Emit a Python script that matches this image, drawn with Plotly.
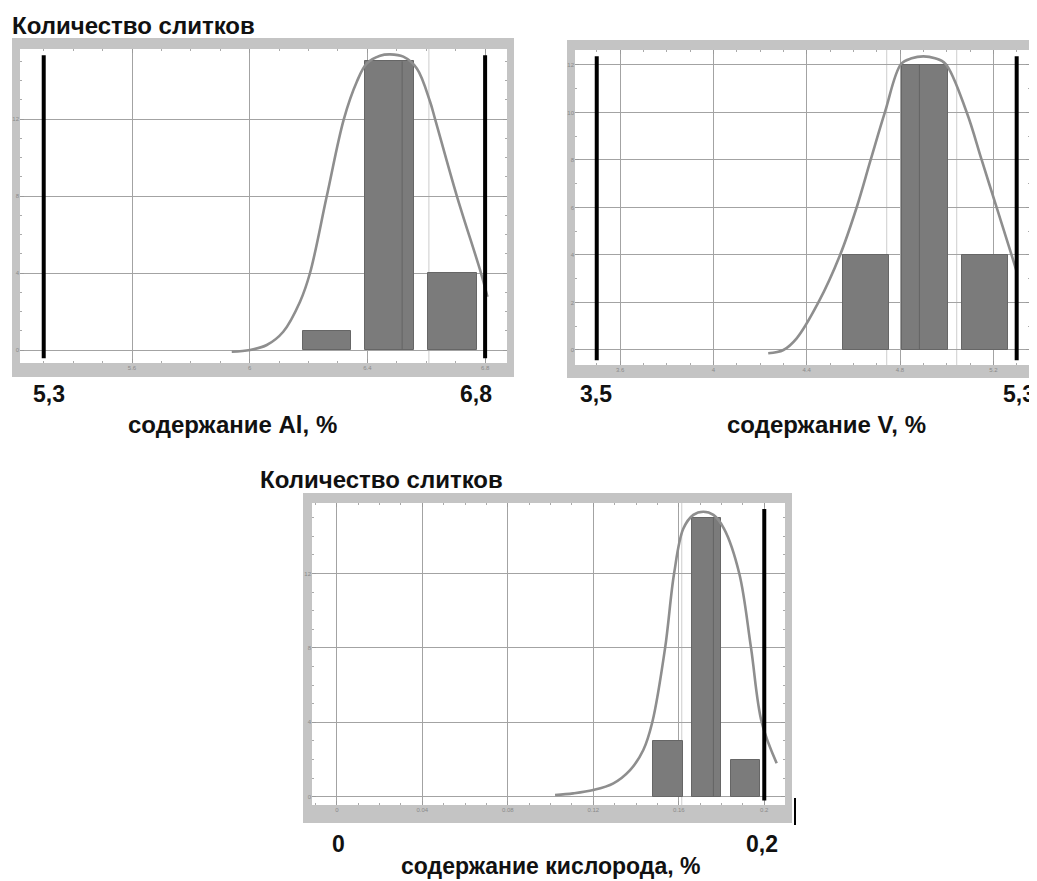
import plotly.graph_objects as go

# the page puts the figure 8px in from the top-left corner, so the figure is
# made 8px smaller and every pixel position below is given in page pixels
OFF = 8
W, H = 1037 - OFF, 881 - OFF

# ---- values ----
# Al
al_bins = [6.263, 6.475, 6.689]
al_counts = [1, 15, 4]
al_limits = [5.3, 6.8]
al_inner_edges = [6.518]
al_light_edges = [6.609]
al_curve_x = [5.939, 6.001, 6.058, 6.114, 6.171, 6.205, 6.262, 6.320,
              6.364, 6.398, 6.443, 6.477, 6.522, 6.568, 6.613, 6.630, 6.704,
              6.786, 6.808]
al_curve_y = [-0.09, 0.0, 0.26, 0.95, 2.51, 4.0, 8.0, 12.0,
              13.94, 14.89, 15.29, 15.36, 15.24, 14.63, 12.9, 12.0, 8.0,
              4.0, 2.77]

# V
v_bins = [4.653, 4.908, 5.165]
v_counts = [4, 12, 4]
v_limits = [3.5, 5.3]
v_inner_edges = [4.883]
v_light_edges = [4.743, 5.043]
v_curve_x = [4.235, 4.300, 4.357, 4.450, 4.543, 4.614, 4.674, 4.735, 4.805,
             4.850, 4.900, 4.950, 4.995, 5.086, 5.150, 5.214, 5.278, 5.300]
v_curve_y = [-0.14, 0.0, 0.49, 2.0, 4.0, 6.0, 8.0, 10.0, 12.05,
             12.28, 12.36, 12.28, 12.05, 10.0, 8.0, 6.0, 4.0, 3.3]

# O
o_bins = [0.155, 0.1729, 0.1913]
o_counts = [3, 15, 2]
o_limits = [0.2]
o_inner_edges = [0.1762]
o_light_edges = [0.1614]
o_curve_x = [0.1021, 0.1106, 0.12, 0.1294, 0.1372, 0.1434, 0.1476, 0.1536,
             0.1578, 0.1621, 0.1668, 0.1715, 0.1762, 0.1812, 0.1883, 0.1938,
             0.1988, 0.2058]
o_curve_y = [0.09, 0.18, 0.36, 0.72, 1.43, 2.51, 4.0, 8.0,
             12.0, 14.4, 15.15, 15.32, 15.15, 14.4, 12.0, 8.0,
             4.0, 1.8]

al_xticks = [5.6, 6.0, 6.4, 6.8]
v_xticks = [3.6, 4.0, 4.4, 4.8, 5.2]
o_xticks = [0, 0.04, 0.08, 0.12, 0.16, 0.2]

FRAME = "#c4c4c4"
GRID = "#a3a3a3"
BAR = "#7b7b7b"
CURVE = "#8e8e8e"
FONT = "Liberation Sans, Arial, sans-serif"


def px(x):
    return (x - OFF) / W


def py(y):
    return 1 - (y - OFF) / H


panels = [
    dict(bins=al_bins, counts=al_counts, width=0.165, limits=al_limits,
         inner=al_inner_edges, light=al_light_edges,
         cx=al_curve_x, cy=al_curve_y, xticks=al_xticks,
         yticks=[0, 4, 8, 12], box=(20, 49, 507, 363), frame=(12, 38, 514, 377),
         xr=[5.2194, 6.8744], yr=[-0.675, 15.64]),
    dict(bins=v_bins, counts=v_counts, width=0.198, limits=v_limits,
         inner=v_inner_edges, light=v_light_edges,
         cx=v_curve_x, cy=v_curve_y, xticks=v_xticks,
         yticks=[0, 2, 4, 6, 8, 10, 12], box=(575, 50, 1030, 365), frame=(567, 40, 1037, 378),
         xr=[3.4068, 5.3571], yr=[-0.632, 12.63]),
    dict(bins=o_bins, counts=o_counts, width=0.0137, limits=o_limits,
         inner=o_inner_edges, light=o_light_edges,
         cx=o_curve_x, cy=o_curve_y, xticks=o_xticks,
         yticks=[0, 4, 8, 12], box=(312, 503, 785, 805), frame=(303, 493, 792, 823),
         xr=[-0.01163, 0.2097], yr=[-0.446, 15.79]),
]

fig = go.Figure()
shapes = []

for i, p in enumerate(panels, start=1):
    xa = "x" if i == 1 else f"x{i}"
    ya = "y" if i == 1 else f"y{i}"
    l, t, r, b = p["box"]
    fl, ft, fr, fb = p["frame"]
    span = p["yr"][1] - p["yr"][0]

    # grey Mathematica-style frame and white plot area
    shapes.append(dict(type="rect", xref="paper", yref="paper",
                       x0=px(fl), x1=px(fr), y0=py(fb), y1=py(ft),
                       fillcolor=FRAME, line=dict(width=0), layer="below"))
    shapes.append(dict(type="rect", xref="paper", yref="paper",
                       x0=px(l), x1=px(r), y0=py(b), y1=py(t),
                       fillcolor="white", line=dict(width=0), layer="below"))

    for e in p["light"]:
        shapes.append(dict(type="line", xref=xa, yref=ya, x0=e, x1=e,
                           y0=p["yr"][0], y1=p["yr"][1],
                           line=dict(color="#cdcdcd", width=1), layer="below"))

    fig.add_trace(go.Bar(x=p["bins"], y=p["counts"], width=p["width"],
                         marker=dict(color=BAR, line=dict(color="#666666", width=1)),
                         xaxis=xa, yaxis=ya, showlegend=False))

    top = max(p["counts"])
    for e in p["inner"]:
        shapes.append(dict(type="line", xref=xa, yref=ya, x0=e, x1=e, y0=0, y1=top,
                           line=dict(color="#646464", width=1)))

    fig.add_trace(go.Scatter(x=p["cx"], y=p["cy"], mode="lines",
                             line=dict(color=CURVE, width=2.6, shape="spline", smoothing=1.0),
                             xaxis=xa, yaxis=ya, showlegend=False))

    # tolerance limits
    for lim in p["limits"]:
        shapes.append(dict(type="line", xref=xa, yref=ya, x0=lim, x1=lim,
                           y0=p["yr"][0] + 0.015 * span, y1=p["yr"][1] - 0.02 * span,
                           line=dict(color="black", width=4)))

    axis_common = dict(showgrid=True, gridcolor=GRID, gridwidth=1, zeroline=False,
                       showline=False, ticks="inside", ticklen=4, tickcolor="#9a9a9a",
                       mirror="ticks", tickfont=dict(size=6, color="#8a8a8a", family=FONT),
                       fixedrange=True)
    minor = dict(ticks="inside", ticklen=2, tickcolor="#aaaaaa", nticks=5, showgrid=False)
    fig.update_layout(**{
        ("xaxis" if i == 1 else f"xaxis{i}"): dict(
            axis_common, domain=[px(l), px(r)], range=p["xr"], anchor=ya,
            tickvals=p["xticks"], ticktext=[f"{v:g}" for v in p["xticks"]], minor=minor),
        ("yaxis" if i == 1 else f"yaxis{i}"): dict(
            axis_common, domain=[py(b), py(t)], range=p["yr"], anchor=xa,
            tickvals=p["yticks"], minor=minor),
    })

# stray frame mark below the oxygen panel
shapes.append(dict(type="line", xref="paper", yref="paper",
                   x0=px(795), x1=px(795), y0=py(825), y1=py(798),
                   line=dict(color="black", width=2)))


def label(text, x, y, size, xanchor="center"):
    return dict(text=f"<b>{text}</b>", xref="paper", yref="paper",
                x=px(x), y=py(y), xanchor=xanchor, yanchor="middle",
                showarrow=False, font=dict(family=FONT, size=size, color="#111111"))


annotations = [
    label("Количество слитков", 10, 25, 24, "left"),
    label("Количество слитков", 258, 479, 24, "left"),
    label("5,3", 49, 394, 23),
    label("6,8", 476, 394, 23),
    label("3,5", 596, 394, 23),
    label("5,3", 1037, 394, 23, "right"),
    label("0", 338, 844, 23),
    label("0,2", 762, 844, 23),
    label("содержание Al, %", 232, 424, 24),
    label("содержание V, %", 826, 424, 24),
    label("содержание кислорода, %", 550, 866, 23),
]

fig.update_layout(
    width=W, height=H,
    margin=dict(l=0, r=0, t=0, b=0),
    paper_bgcolor="white", plot_bgcolor="rgba(0,0,0,0)",
    bargap=0, showlegend=False,
    shapes=shapes, annotations=annotations,
)

fig.write_html("out.html")
